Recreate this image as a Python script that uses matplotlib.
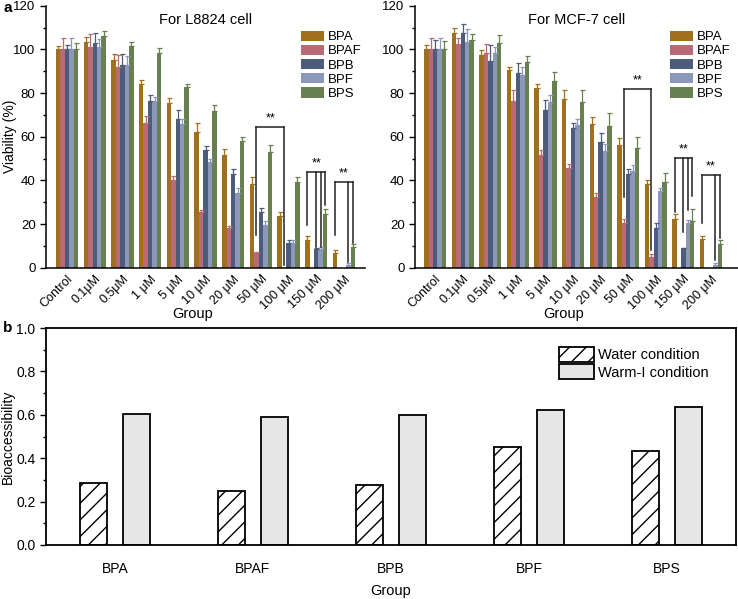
import numpy as np
import matplotlib
matplotlib.use('Agg')
import matplotlib.pyplot as plt

plt.rcParams['font.family'] = ['Liberation Sans', 'DejaVu Sans']
plt.rcParams['hatch.linewidth'] = 1.0

# ---- data: panel a ----
groups = ['Control', '0.1μM', '0.5μM', '1 μM', '5 μM', '10 μM', '20 μM',
          '50 μM', '100 μM', '150 μM', '200 μM']
compounds = ['BPA', 'BPAF', 'BPB', 'BPF', 'BPS']
colors = ['#A0701F', '#B86A76', '#4C5D7C', '#8C97B9', '#687F50']

l8824_bpa = [100, 103.2, 95.1, 84.3, 75.6, 62.1, 51.5, 38.3, 23.7, 12.7, 6.6]
l8824_bpaf = [100, 101.2, 91.8, 66.3, 40.2, 25.5, 18.0, 6.6, 0, 0, 0]
l8824_bpb = [100, 102.9, 92.8, 76.2, 68.2, 53.7, 42.7, 25.3, 11.3, 8.5, 0]
l8824_bpf = [100, 101.2, 92.8, 76.2, 65.8, 48.4, 34.4, 19.5, 11.3, 8.4, 1.2]
l8824_bps = [100, 106.1, 101.5, 98.3, 82.6, 71.8, 58.2, 53.0, 39.4, 24.7, 9.5]

l8824_bpa_err = [1.5, 2.3, 2.6, 1.5, 2.1, 4.1, 3.0, 3.2, 1.7, 2.0, 1.5]
l8824_bpaf_err = [5, 6, 5.6, 3.2, 2, 1, 1, 0.6, 0, 0, 0]
l8824_bpb_err = [2, 4.4, 5.3, 3, 4, 2, 2.6, 2.1, 1.4, 0.5, 0]
l8824_bpf_err = [5, 3.4, 4.3, 2.1, 2.1, 1.2, 2, 1.7, 1.4, 0.9, 0.8]
l8824_bps_err = [3, 2.5, 2, 2.1, 1.4, 2.7, 1.8, 3.2, 2.3, 2.1, 1.4]

mcf7_bpa = [100, 107.6, 97.2, 90.4, 82.1, 77.1, 65.9, 56.2, 38.5, 22.4, 13.3]
mcf7_bpaf = [100, 102.4, 98.2, 76.2, 51.8, 45.8, 32.2, 20.4, 5.1, 0, 0]
mcf7_bpb = [100, 107.4, 94.9, 89.0, 72.0, 63.8, 57.6, 43.1, 18.1, 9.2, 0]
mcf7_bpf = [100, 103.3, 98.2, 88.1, 75.7, 65.4, 53.3, 44.4, 35.2, 20.5, 1.1]
mcf7_bps = [100, 104.1, 102.7, 94.4, 85.7, 75.9, 65.1, 54.7, 39.4, 21.6, 10.9]

mcf7_bpa_err = [2.2, 2.1, 2.3, 1.5, 2.1, 4.3, 3.2, 3.2, 1.5, 2.1, 1.2]
mcf7_bpaf_err = [5.2, 3, 4.4, 5, 2, 1.5, 1.8, 1.8, 1, 0, 0]
mcf7_bpb_err = [4.2, 4.4, 7.3, 4.8, 5, 2.5, 4, 2, 2.3, 0, 0]
mcf7_bpf_err = [5.2, 6.1, 3, 4, 3.4, 2.5, 3.4, 2.8, 1.1, 1.4, 1.2]
mcf7_bps_err = [4, 3.1, 4, 2.5, 4.1, 5.7, 5.7, 5.2, 4, 5.2, 1.7]

# significance brackets: (top, [(group, compound, leg bottom), ...])
l8824_brackets = [
    (64.6, [(7, 1, 15), (8, 1, 1.2)]),
    (44.0, [(9, 0, 19.6), (9, 2, 9.6), (9, 3, 9.6), (9, 4, 28.7)]),
    (39.4, [(10, 0, 15), (10, 3, 2.7), (10, 4, 11.2)]),
]
mcf7_brackets = [
    (81.9, [(7, 1, 32.6), (8, 1, 8.0)]),
    (50.2, [(9, 0, 25.7), (9, 2, 16.5), (9, 3, 26.4), (9, 4, 32.9)]),
    (42.5, [(10, 0, 20.3), (10, 3, 3.4), (10, 4, 13.4)]),
]

# ---- data: panel b ----
b_groups = ['BPA', 'BPAF', 'BPB', 'BPF', 'BPS']
water = [0.288, 0.251, 0.277, 0.451, 0.432]
warm = [0.605, 0.588, 0.597, 0.620, 0.634]

W = 0.16


def viability_panel(ax, vals, errs, brackets, title, leg_x):
    x = np.arange(len(groups))
    for i, (v, e, c, name) in enumerate(zip(vals, errs, colors, compounds)):
        xi = x + (i - 2) * W
        ax.bar(xi, v, W, color=c, label=name, zorder=2)
        v = np.array(v, float)
        e = np.array(e, float)
        m = v > 0
        ax.errorbar(xi[m], v[m], yerr=[np.zeros(m.sum()), e[m]], fmt='none',
                    ecolor=c, elinewidth=0.9, capsize=1.8, capthick=0.9, zorder=3)
    for top, legs in brackets:
        xs = [g + (k - 2) * W for g, k, _ in legs]
        for (g, k, bot), xx in zip(legs, xs):
            ax.plot([xx, xx], [bot, top], color='#222222', lw=1.1, zorder=4)
        ax.plot([min(xs), max(xs)], [top, top], color='#222222', lw=1.1, zorder=4)
        ax.text((min(xs) + max(xs)) / 2, top + 1.2, '**', ha='center', va='bottom',
                fontsize=9)
    ax.set_ylim(0, 120)
    ax.set_yticks(np.arange(0, 121, 20))
    ax.set_yticks(np.arange(0, 121, 10), minor=True)
    ax.set_xticks(x)
    ax.set_xticklabels(groups, rotation=45, ha='right', rotation_mode='anchor',
                       fontsize=9)
    ax.tick_params(axis='x', length=0, pad=4)
    ax.tick_params(axis='y', which='major', direction='out', length=4, width=1,
                   labelsize=9.5)
    ax.tick_params(axis='y', which='minor', direction='out', length=2.5, width=1)
    for s in ['top', 'right']:
        ax.spines[s].set_visible(False)
    for s in ['left', 'bottom']:
        ax.spines[s].set_linewidth(1.1)
    ax.set_xlabel('Group', fontsize=10.5)
    ax.xaxis.set_label_coords(0.46, -0.15)
    ax.set_title(title, fontsize=10.5, y=0.9)
    ax.legend(loc='upper left', bbox_to_anchor=(leg_x, 0.905), frameon=False,
              fontsize=9.5, handlelength=1.75, handleheight=0.8, labelspacing=0.12,
              handletextpad=0.3, borderaxespad=0, borderpad=0)


fig = plt.figure(figsize=(7.38, 5.99), dpi=100)

ax1 = fig.add_axes([46 / 738, 1 - 267.7 / 599, 319 / 738, 262 / 599])
viability_panel(ax1,
                [l8824_bpa, l8824_bpaf, l8824_bpb, l8824_bpf, l8824_bps],
                [l8824_bpa_err, l8824_bpaf_err, l8824_bpb_err, l8824_bpf_err, l8824_bps_err],
                l8824_brackets, 'For L8824 cell', 0.8)
ax1.set_xlim(-0.76, 10.76)
ax1.set_ylabel('Viability (%)', fontsize=10)
ax1.yaxis.set_label_coords(-0.09, 0.5)

ax2 = fig.add_axes([415 / 738, 1 - 267.7 / 599, 323 / 738, 262 / 599])
viability_panel(ax2,
                [mcf7_bpa, mcf7_bpaf, mcf7_bpb, mcf7_bpf, mcf7_bps],
                [mcf7_bpa_err, mcf7_bpaf_err, mcf7_bpb_err, mcf7_bpf_err, mcf7_bps_err],
                mcf7_brackets, 'For MCF-7 cell', 0.79)
ax2.set_xlim(-0.73, 10.98)

# ---- panel b ----
ax3 = fig.add_axes([46 / 738, 1 - 545 / 599, 690 / 738, 217 / 599])
xb = np.arange(len(b_groups))
ax3.bar(xb - 0.155, water, 0.2, color='white', edgecolor='black', hatch='//',
        linewidth=1.3, label='Water condition')
ax3.bar(xb + 0.155, warm, 0.2, color='#E6E6E6', edgecolor='black',
        linewidth=1.3, label='Warm-I condition')
ax3.set_xlim(-0.5, 4.5)
ax3.set_ylim(0, 1.0)
ax3.set_xticks(xb)
ax3.set_xticklabels(b_groups, fontsize=10)
ax3.set_yticks(np.arange(0, 1.01, 0.2))
ax3.set_yticks(np.arange(0, 1.01, 0.1), minor=True)
ax3.yaxis.set_major_formatter(matplotlib.ticker.FormatStrFormatter('%.1f'))
ax3.tick_params(axis='x', length=0, pad=12)
ax3.tick_params(axis='y', which='major', direction='out', length=4, width=1,
                labelsize=10)
ax3.tick_params(axis='y', which='minor', direction='out', length=2.5, width=1)
for s in ax3.spines.values():
    s.set_linewidth(1.3)
ax3.set_xlabel('Group', fontsize=10.5)
ax3.xaxis.set_label_coords(0.5, -0.18)
ax3.set_ylabel('Bioaccessibility', fontsize=10)
ax3.yaxis.set_label_coords(-0.045, 0.5)
ax3.legend(loc='upper left', bbox_to_anchor=(0.735, 0.94), frameon=False,
           fontsize=10.5, handlelength=2.4, handleheight=1.2, labelspacing=0.15,
           handletextpad=0.3, borderaxespad=0)

fig.text(3 / 738, 1 - 8 / 599, 'a', fontsize=11, fontweight='bold', va='center')
fig.text(3 / 738, 1 - 328 / 599, 'b', fontsize=11, fontweight='bold', va='center')

fig.savefig('out.png', dpi=100)
